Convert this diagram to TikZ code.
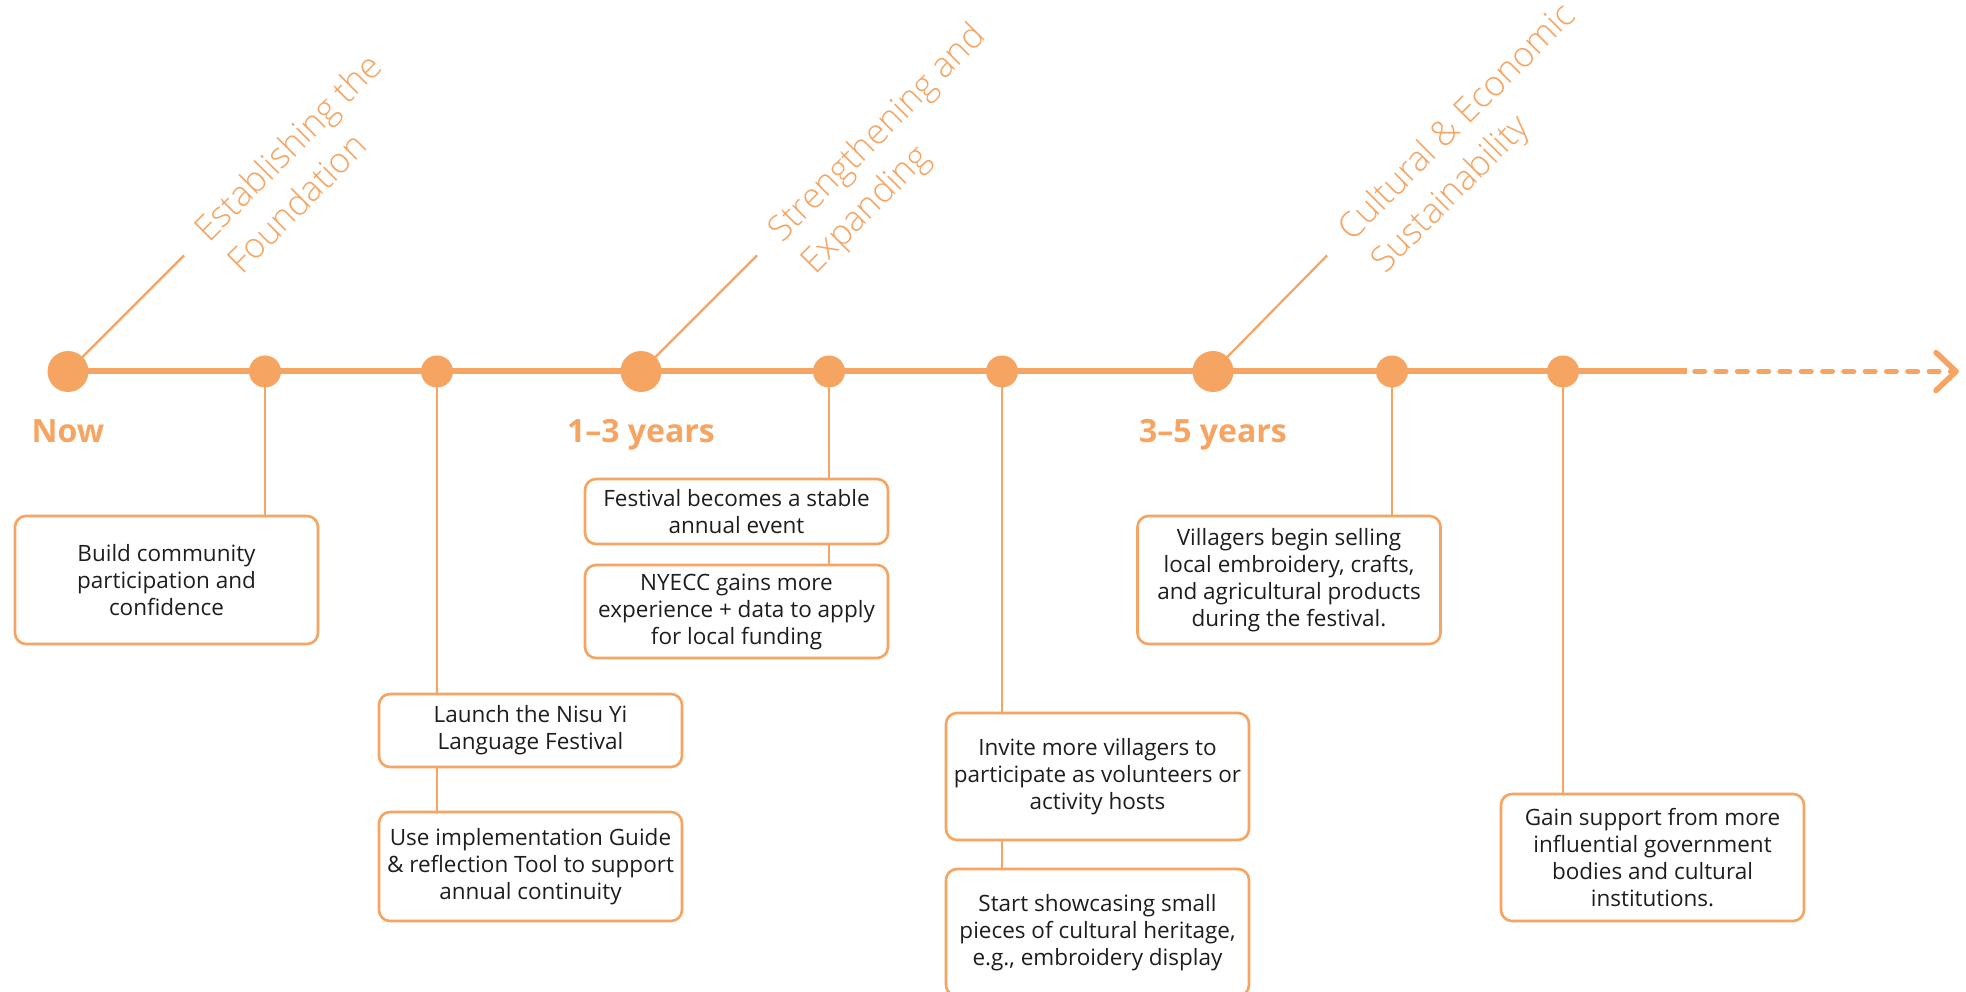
\documentclass[tikz,border=0pt]{standalone}
\usepackage{fontspec}
\setmainfont{Open Sans}
\IfFontExistsTF{Open Sans Light}
  {\newfontfamily\lightfont{Open Sans Light}}
  {\newfontfamily\lightfont{Open Sans}}
\usetikzlibrary{calc}
\definecolor{tl}{HTML}{F6A462}
\definecolor{ink}{HTML}{1E1E1E}

\begin{document}
\begin{tikzpicture}[x=1pt,y=-1pt,
  bigdot/.style={circle,fill=tl,minimum size=41pt,inner sep=0pt},
  smalldot/.style={circle,fill=tl,minimum size=32pt,inner sep=0pt},
  axis/.style={draw=tl,line width=6pt},
  future/.style={draw=tl,line width=5.5pt,line cap=round,dash pattern=on 9.5pt off 11.8pt},
  tip/.style={draw=tl,line width=5.5pt,line cap=round,line join=round},
  pointer/.style={draw=tl,line width=2.2pt},
  stem/.style={draw=tl,line width=2.4pt},
  card/.style={draw=tl,line width=2.6pt,rounded corners=11pt,fill=white,
    minimum width=303pt,align=center,text=ink,inner sep=0pt,
    font={\fontsize{22.5}{27}\selectfont}},
  phase/.style={text=tl,anchor=base,inner sep=0pt,
    font={\bfseries\fontsize{32}{36}\selectfont}},
  theme/.style={text=tl,anchor=base west,rotate=45,inner sep=0pt,
    font={\lightfont\fontsize{35}{45}\selectfont}}]

\useasboundingbox[fill=white] (0,0) rectangle (1966,992);

% milestones on the axis
\node[bigdot]   (p1) at (68,371.5) {};
\node[smalldot] (s1) at (265,371.5) {};
\node[smalldot] (s2) at (437,371.5) {};
\node[bigdot]   (p2) at (641,371.5) {};
\node[smalldot] (s3) at (829,371.5) {};
\node[smalldot] (s4) at (1002,371.5) {};
\node[bigdot]   (p3) at (1213,371.5) {};
\node[smalldot] (s5) at (1392,371.5) {};
\node[smalldot] (s6) at (1563,371.5) {};

% axis, dashed continuation and open arrow head
\coordinate (solidend) at (1687,371.5);
\coordinate (dashstart) at (1695,371.5);
\coordinate (arrowtip) at (1956,371.5);
\draw[axis] (p1.center) -- (solidend);
\draw[future] (dashstart) -- (arrowtip);
\draw[tip] (arrowtip) ++(-20,-19) -- (arrowtip) -- ++(-20,19);

% phase names under the large dots
\node[phase] (l1) at (p1.center |- 0,442) {Now};
\node[phase] (l2) at (p2.center |- 0,442) {1–3 years};
\node[phase] (l3) at (p3.center |- 0,442) {3–5 years};

% slanted theme titles with their pointers
\draw[pointer] (p1.center) -- ++(116,-116) coordinate (q1);
\draw[pointer] (p2.center) -- ++(116,-116) coordinate (q2);
\draw[pointer] (p3.center) -- ++(114,-116) coordinate (q3);
\node[theme] (t1a) at ([shift={(141,-128)}]p1.center) {Establishing the};
\node[theme] (t1b) at ([shift={(174,-96)}]p1.center) {Foundation};
\node[theme] (t2a) at ([shift={(141,-128)}]p2.center) {Strengthening and};
\node[theme] (t2b) at ([shift={(174,-96)}]p2.center) {Expanding};
\node[theme] (t3a) at ([shift={(139,-129)}]p3.center) {Cultural \& Economic};
\node[theme] (t3b) at ([shift={(172,-97)}]p3.center) {Sustainability};

% stems (drawn first so the cards sit on top)
\draw[stem] (s1.center) -- (265,516);
\draw[stem] (s2.center) -- (437,812);
\draw[stem] (s3.center) -- (829,565);
\draw[stem] (s4.center) -- (1002,869);
\draw[stem] (s5.center) -- (1392,516);
\draw[stem] (s6.center) -- (1563,794);

% action cards
\node[card,minimum height=128pt] (build) at (166.5,580)
  {Build community\\participation and\\confidence};
\node[card,minimum height=73pt] (launch) at (530.5,730.5)
  {Launch the Nisu Yi\\Language Festival};
\node[card,minimum height=109pt] (guide) at (530.5,866.5)
  {Use implementation Guide\\\& reflection Tool to support\\annual continuity};
\node[card,minimum height=65pt] (stable) at (736.5,511.5)
  {Festival becomes a stable\\annual event};
\node[card,minimum height=93pt] (nyecc) at (736.5,611.5)
  {NYECC gains more\\experience + data to apply\\for local funding};
\node[card,minimum height=127pt] (invite) at (1097.5,776.5)
  {Invite more villagers to\\participate as volunteers or\\activity hosts};
\node[card,minimum height=127pt] (showcase) at (1097.5,932.5)
  {Start showcasing small\\pieces of cultural heritage,\\e.g., embroidery display};
\node[card,minimum height=128pt] (selling) at (1289,580)
  {Villagers begin selling\\local embroidery, crafts,\\and agricultural products\\during the festival.};
\node[card,minimum height=127pt] (support) at (1652.5,857.5)
  {Gain support from more\\influential government\\bodies and cultural\\institutions.};

\end{tikzpicture}
\end{document}
